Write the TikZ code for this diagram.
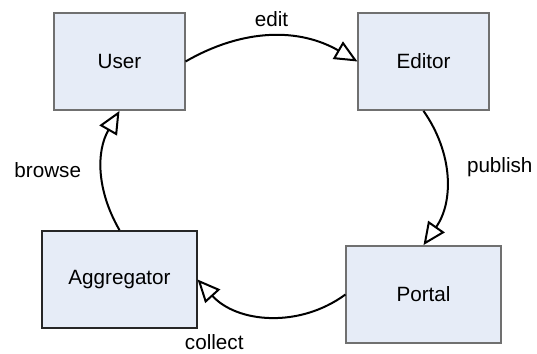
\documentclass[tikz,border=0pt]{standalone}
\usepackage{fontspec}
\setmainfont{Liberation Sans}
\usetikzlibrary{arrows.meta}
\definecolor{boxfill}{RGB}{230,236,247}
\definecolor{boxline}{RGB}{112,112,112}
\tikzset{box/.style={draw=boxline, fill=boxfill, line width=1.1pt, inner sep=0pt, minimum width=98pt, minimum height=73pt}}
\tikzstyle{widebox}=[box, minimum width=116pt]
\tikzstyle{lbl}=[inner sep=15pt]

\begin{document}
\begin{tikzpicture}[x=0.75pt, y=-0.75pt, >={Triangle[open,fill=white,length=17pt,width=15pt]}, auto, font=\fontsize{15.5}{18}\selectfont]
\useasboundingbox (0,0) rectangle (537,354);
\node[box] (user) at (119.5,61.5) {User};
\node[box] (editor) at (423.5,61.5) {Editor};
\node[widebox, draw=black!85] (aggregator) at (119.5,279.5) {Aggregator};
\node[widebox] (portal) at (423.5,294.5) {Portal};
% the publishing cycle
\path[->, line width=1.5pt]
	(user.east) edge[bend left=30] node[inner sep=6.5pt] {edit} (editor.west)
	(editor.south) edge[bend left=35] node[lbl, yshift=8pt] {publish} (portal.north)
	(portal.west) edge[bend left=42] node[lbl, inner sep=13pt, xshift=-5pt] {collect} (aggregator.east)
	(aggregator.north) edge[bend left=30] node[lbl] {browse} (user.south)
;
\end{tikzpicture}
\end{document}
